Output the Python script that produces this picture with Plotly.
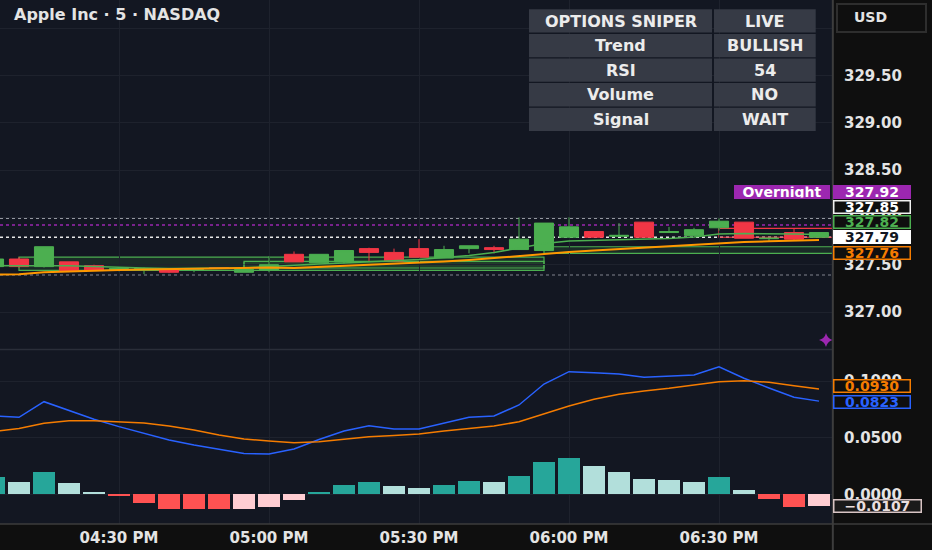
import plotly.graph_objects as go

# ---------------- data ----------------
DAY = "2025-06-20 "
times = ["16:05", "16:10", "16:15", "16:20", "16:25", "16:30", "16:35", "16:40", "16:45", "16:50",
         "16:55", "17:00", "17:05", "17:10", "17:15", "17:20", "17:25", "17:30", "17:35", "17:40",
         "17:45", "17:50", "17:55", "18:00", "18:05", "18:10", "18:15", "18:20", "18:25", "18:30",
         "18:35", "18:40", "18:45", "18:50"]

open_ = [327.48, 327.56, 327.48, 327.53, 327.49, 327.44, 327.45, 327.45, 327.44, 327.47,
         327.42, 327.44, 327.61, 327.52, 327.53, 327.67, 327.63, 327.67, 327.57, 327.67,
         327.68, 327.66, 327.65, 327.79, 327.85, 327.80, 327.95, 327.84, 327.81, 327.89,
         327.95, 327.775, 327.84, 327.79]
high = [327.56, 327.58, 327.69, 327.53, 327.50, 327.47, 327.47, 327.45, 327.45, 327.47,
        327.53, 327.59, 327.64, 327.61, 327.65, 327.68, 327.67, 327.77, 327.70, 327.70,
        327.70, 328.00, 327.94, 328.00, 327.85, 327.94, 327.95, 327.90, 327.89, 327.99,
        327.95, 327.78, 327.88, 327.84]
low = [327.47, 327.47, 327.47, 327.44, 327.44, 327.43, 327.40, 327.41, 327.42, 327.46,
       327.42, 327.42, 327.53, 327.52, 327.515, 327.54, 327.54, 327.58, 327.57, 327.62,
       327.62, 327.66, 327.65, 327.79, 327.79, 327.80, 327.79, 327.84, 327.81, 327.86,
       327.78, 327.745, 327.76, 327.79]
close = [327.56, 327.48, 327.69, 327.44, 327.44, 327.46, 327.46, 327.42, 327.45, 327.46,
         327.45, 327.50, 327.53, 327.61, 327.65, 327.63, 327.54, 327.58, 327.66, 327.70,
         327.66, 327.77, 327.94, 327.90, 327.79, 327.81, 327.79, 327.85, 327.87, 327.96,
         327.78, 327.78, 327.77, 327.84]

ema_slow = [327.396, 327.40, 327.42, 327.43, 327.44, 327.444, 327.45, 327.455, 327.46, 327.46,
            327.465, 327.47, 327.465, 327.476, 327.486, 327.497, 327.507, 327.518, 327.534, 327.55,
            327.571, 327.592, 327.618, 327.634, 327.650, 327.666, 327.682, 327.698, 327.714, 327.726,
            327.740, 327.747, 327.756, 327.76]
ema_fast = [327.49, 327.49, 327.497, 327.49, 327.48, 327.47, 327.465, 327.46, 327.46, 327.46,
            327.465, 327.481, 327.497, 327.507, 327.518, 327.529, 327.539, 327.555, 327.576, 327.597,
            327.629, 327.677, 327.724, 327.751, 327.756, 327.761, 327.766, 327.777, 327.793, 327.825,
            327.830, 327.830, 327.825, 327.82]

macd = [0.0692, 0.0680, 0.0818, 0.0738, 0.0663, 0.0598, 0.0537, 0.0480, 0.0435, 0.0396,
        0.0360, 0.0356, 0.0400, 0.0484, 0.0559, 0.0606, 0.0577, 0.0577, 0.0627, 0.0680,
        0.0692, 0.0789, 0.0974, 0.1083, 0.1073, 0.1063, 0.1034, 0.1042, 0.1054, 0.1127,
        0.1025, 0.0939, 0.0857, 0.0823]
signal = [0.0555, 0.0581, 0.0627, 0.0650, 0.0650, 0.0643, 0.0630, 0.0603, 0.0568, 0.0524,
          0.0489, 0.0471, 0.0456, 0.0465, 0.0486, 0.0509, 0.0519, 0.0533, 0.0559, 0.0583,
          0.0603, 0.0641, 0.0709, 0.0780, 0.0839, 0.0883, 0.0913, 0.0936, 0.0966, 0.0995,
          0.1004, 0.0989, 0.0959, 0.0930]
hist = [0.0152, 0.0108, 0.0199, 0.0102, 0.0019, -0.0019, -0.0078, -0.0126, -0.0129, -0.0131,
        -0.0130, -0.0108, -0.0049, 0.0019, 0.0084, 0.0110, 0.0069, 0.0055, 0.0084, 0.0117,
        0.0108, 0.0165, 0.0287, 0.0323, 0.0248, 0.0198, 0.0135, 0.0126, 0.0108, 0.0150,
        0.0042, -0.0039, -0.0110, -0.0107]

zone_start = ["16:10", "16:55", "17:55"]
zone_end = ["17:55", "17:55", "19:00"]
zone_low = [327.44, 327.465, 327.62]
zone_high = [327.58, 327.535, 327.69]
red_zone = ("18:30", "19:00", 327.79, 327.885)

level_values = [327.99, 327.92, 327.79, 327.39]
last_price = 327.79
overnight_price = 327.92
session_high = 327.85
marker_time, marker_price = "18:51:24", 326.704

price_ticks = [327.0, 327.5, 328.0, 328.5, 329.0, 329.5, 330.0]
macd_ticks = [0.0, 0.05, 0.1]
time_ticks = ["16:30", "17:00", "17:30", "18:00", "18:30"]
time_labels = ["04:30 PM", "05:00 PM", "05:30 PM", "06:00 PM", "06:30 PM"]

title_text = "Apple Inc · 5 · NASDAQ"
table_rows = [("OPTIONS SNIPER", "LIVE"), ("Trend", "BULLISH"), ("RSI", "54"),
              ("Volume", "NO"), ("Signal", "WAIT")]

# ---------------- styles ----------------
FONT = "DejaVu Sans"
GREEN, RED, ORANGE, BLUE, PURPLE = "#4caf50", "#f23645", "#ff9800", "#2962ff", "#9c27b0"
SIG = "#f57c00"
BG, PANEL, GRID = "#131722", "#0f0f0f", "#1e222d"
TXT = "#e4e4e4"
PW, PH = 832, 524  # plot area in px


def fx(p):
    return p / PW


def fy(p):
    return (PH - p) / PH


X = [DAY + t for t in times]

fig = go.Figure()

fig.add_trace(go.Candlestick(
    x=X, open=open_, high=high, low=low, close=close,
    increasing=dict(line=dict(color=GREEN, width=1), fillcolor=GREEN),
    decreasing=dict(line=dict(color=RED, width=1), fillcolor=RED),
    xaxis="x", yaxis="y", hoverinfo="skip", whiskerwidth=0))
fig.add_trace(go.Scatter(x=X, y=ema_fast, mode="lines", line=dict(color=GREEN, width=1.5),
                         xaxis="x", yaxis="y", hoverinfo="skip"))
fig.add_trace(go.Scatter(x=X, y=ema_slow, mode="lines", line=dict(color=ORANGE, width=2),
                         xaxis="x", yaxis="y", hoverinfo="skip"))
fig.add_trace(go.Scatter(x=[DAY + marker_time], y=[marker_price], mode="markers",
                         marker=dict(symbol="star-diamond", size=10, color=PURPLE),
                         xaxis="x", yaxis="y", hoverinfo="skip"))

# MACD pane
hcolors = []
for i, h in enumerate(hist):
    prev = hist[i - 1] if i > 0 else h
    if h >= 0:
        hcolors.append("#26a69a" if h >= prev else "#b2dfdb")
    else:
        hcolors.append("#ffcdd2" if h > prev else "#ff5252")
fig.add_trace(go.Bar(x=X, y=hist, marker=dict(color=hcolors, line=dict(width=0)),
                     width=5 * 60 * 1000 * 0.91, xaxis="x2", yaxis="y2", hoverinfo="skip"))
fig.add_trace(go.Scatter(x=X, y=macd, mode="lines", line=dict(color=BLUE, width=1.5),
                         xaxis="x2", yaxis="y2", hoverinfo="skip"))
fig.add_trace(go.Scatter(x=X, y=signal, mode="lines", line=dict(color=SIG, width=1.5),
                         xaxis="x2", yaxis="y2", hoverinfo="skip"))

# ---------------- shapes ----------------
shapes = []
for s, e, lo, hi in zip(zone_start, zone_end, zone_low, zone_high):
    shapes.append(dict(type="rect", xref="x", yref="y", x0=DAY + s, x1=DAY + e, y0=lo, y1=hi,
                       fillcolor="rgba(76,175,80,0.13)", line=dict(color=GREEN, width=1.2),
                       layer="below"))
shapes.append(dict(type="rect", xref="x", yref="y", x0=DAY + red_zone[0], x1=DAY + red_zone[1],
                   y0=red_zone[2], y1=red_zone[3], fillcolor="rgba(0,0,0,0)",
                   line=dict(color=RED, width=1.2), layer="below"))
level_colors = ["#9598a1", PURPLE, "#e8e8e8", "#5d606b"]
for v, c in zip(level_values, level_colors):
    shapes.append(dict(type="line", xref="paper", yref="y", x0=0, x1=1, y0=v, y1=v,
                       line=dict(color=c, width=1.5, dash="dot"), layer="below"))
# pane separator, axis borders
shapes.append(dict(type="line", xref="paper", yref="paper", x0=0, x1=1, y0=fy(349.5), y1=fy(349.5),
                   line=dict(color="#2a2e39", width=1.5), layer="above"))
shapes.append(dict(type="line", xref="paper", yref="paper", x0=1.001, x1=1.001, y0=-0.06, y1=1,
                   line=dict(color="#3d3d3d", width=2), layer="above"))
shapes.append(dict(type="line", xref="paper", yref="paper", x0=0, x1=932 / PW, y0=0, y1=0,
                   line=dict(color="#3d3d3d", width=1.5), layer="above"))
# USD button
shapes.append(dict(type="rect", xref="paper", yref="paper", x0=fx(837), x1=fx(926),
                   y0=fy(32), y1=fy(4), fillcolor=PANEL, line=dict(color="#2e2e2e", width=2),
                   layer="above"))
# table cells
col_x = [(529, 712), (714, 815.7)]
for r in range(len(table_rows)):
    top = 9.3 + r * 24.6
    for (a, b) in col_x:
        shapes.append(dict(type="rect", xref="paper", yref="paper", x0=fx(a), x1=fx(b),
                           y0=fy(top + 23.3), y1=fy(top), fillcolor="#363a45",
                           line=dict(width=0), layer="above"))

# ---------------- annotations ----------------
ann = []
bold = dict(family=FONT, weight="bold")
ann.append(dict(text=title_text, xref="paper", yref="paper", x=fx(12), y=fy(15), xanchor="left",
                yanchor="middle", showarrow=False, font=dict(size=16, color=TXT, **bold)))
ann.append(dict(text="USD", xref="paper", yref="paper", x=fx(852), y=fy(17), xanchor="left",
                yanchor="middle", showarrow=False, font=dict(size=14, color=TXT, **bold)))
for r, (a, b) in enumerate(table_rows):
    yc = 9.3 + r * 24.6 + 11.8
    for (x0, x1), t in zip(col_x, (a, b)):
        ann.append(dict(text=t, xref="paper", yref="paper", x=fx((x0 + x1) / 2), y=fy(yc),
                        xanchor="center", yanchor="middle", showarrow=False,
                        font=dict(size=16, color="#ececec", **bold)))


def axis_label(text, val, yref, bg, border, color, yshift, width=75):
    return dict(text=text, xref="paper", yref=yref, x=1, xshift=1, y=val, yshift=yshift,
                xanchor="left", yanchor="middle", showarrow=False, bgcolor=bg,
                bordercolor=border, borderwidth=1.5, borderpad=0, width=width, height=11,
                align="center", valign="middle", font=dict(size=14, color=color, **bold))


def fmt(v, d):
    s = f"{abs(v):.{d}f}"
    return ("\u2212" + s) if v < 0 else s


ann.append(dict(text="Overnight", xref="paper", yref="y", x=1, xshift=-2, y=overnight_price,
                yshift=33, xanchor="right", yanchor="middle", showarrow=False, bgcolor=PURPLE,
                bordercolor=PURPLE, borderwidth=1.5, borderpad=0, width=93, height=11,
                font=dict(size=14, color="white", **bold)))
ann.append(axis_label(fmt(overnight_price, 2), overnight_price, "y", PURPLE, PURPLE, "white", 33))
ann.append(axis_label(fmt(session_high, 2), session_high, "y", PANEL, "#f0f0f0", "white", 25))
ann.append(axis_label(fmt(ema_fast[-1], 2), ema_fast[-1], "y", PANEL, GREEN, GREEN, 12.5))
ann.append(axis_label(fmt(last_price, 2), last_price, "y", "#ffffff", "#ffffff", "#131722", 0))
ann.append(axis_label(fmt(ema_slow[-1], 2), ema_slow[-1], "y", PANEL, SIG, SIG, -13))
ann.append(axis_label(fmt(signal[-1], 4), signal[-1], "y2", PANEL, SIG, SIG, 3.5))
ann.append(axis_label(fmt(macd[-1], 4), macd[-1], "y2", PANEL, BLUE, BLUE, -0.5))
ann.append(axis_label(fmt(hist[-1], 4), hist[-1], "y2", "#1a1a1a", "#d8c4c4", "#eadede", 0, width=86))

xr = [DAY + "16:06:12", DAY + "18:52:36"]
tv = [DAY + t for t in time_ticks]
tickfont = dict(size=15, color=TXT, **bold)

fig.update_layout(
    width=932, height=550, margin=dict(l=0, r=100, t=0, b=26),
    paper_bgcolor=PANEL, plot_bgcolor=BG, showlegend=False,
    boxgap=0.1, boxgroupgap=0.15, bargap=0,
    shapes=shapes, annotations=ann,
    xaxis=dict(domain=[0, 1], anchor="y", range=xr, type="date", tickvals=tv,
               showticklabels=False, showgrid=True, gridcolor=GRID, zeroline=False,
               rangeslider=dict(visible=False), matches="x2"),
    xaxis2=dict(domain=[0, 1], anchor="y2", range=xr, type="date", tickvals=tv,
                ticktext=time_labels, showgrid=True, gridcolor=GRID, zeroline=False,
                tickfont=tickfont, ticks="", ticklabelstandoff=3),
    yaxis=dict(domain=[fy(349), 1], anchor="x", side="right", range=[326.609, 330.298],
               tickvals=price_ticks, ticktext=[f"{v:.2f}" for v in price_ticks],
               showgrid=True, gridcolor=GRID, zeroline=False, tickfont=tickfont, ticks="",
               ticklabelstandoff=11),
    yaxis2=dict(domain=[0, fy(350)], anchor="x2", side="right", range=[-0.02624, 0.12747],
                tickvals=macd_ticks, ticktext=[f"{v:.4f}" for v in macd_ticks],
                showgrid=True, gridcolor=GRID, zeroline=False, tickfont=tickfont, ticks="",
                ticklabelstandoff=11),
)

fig.write_html("out.html", config={"displayModeBar": False},
               post_script="document.body.style.margin='0';"
                           "document.body.style.background='#0f0f0f';")
